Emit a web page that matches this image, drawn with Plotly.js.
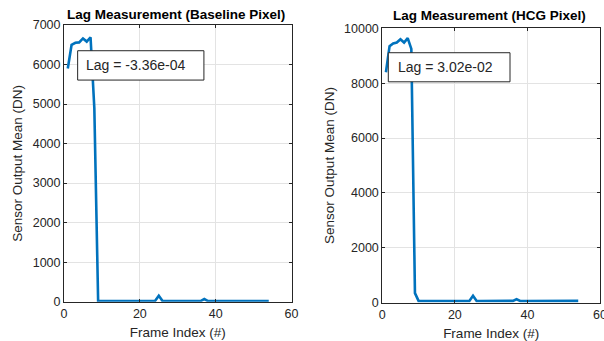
<!DOCTYPE html>
<html>
<head>
<meta charset="utf-8">
<script src="https://cdn.plot.ly/plotly-3.0.1.min.js"></script>
<style>html,body{margin:0;padding:0;background:#fff;}#chart{width:604px;height:341px;}</style>
</head>
<body>
<div id="chart"></div>
<script>
// Frame indices 1..54
const frames = Array.from({length: 54}, (_, i) => i + 1);

// Baseline pixel sensor output mean (DN)
const baselineValues = [
  5900, 6500, 6550, 6560, 6660, 6580, 6690, 4900, 15, 14,
  16, 14, 15, 13, 16, 15, 14, 16, 15, 14,
  15, 16, 14, 18, 150, 16, 14, 15, 16, 14,
  15, 14, 16, 15, 14, 16, 68, 15, 14, 16,
  15, 14, 15, 16, 14, 15, 16, 14, 15, 16,
  14, 15, 16, 15
];

// HCG pixel sensor output mean (DN)
const hcgValues = [
  8400, 9350, 9450, 9480, 9600, 9480, 9640, 9250, 350, 65,
  62, 64, 63, 65, 62, 64, 63, 65, 64, 62,
  63, 65, 64, 66, 255, 64, 63, 65, 62, 64,
  63, 65, 64, 62, 63, 66, 125, 64, 63, 65,
  62, 64, 63, 65, 64, 62, 63, 65, 64, 62,
  63, 65, 64, 65
];

const titles = ["Lag Measurement (Baseline Pixel)", "Lag Measurement (HCG Pixel)"];
const lagLabels = ["Lag = -3.36e-04", "Lag = 3.02e-02"];
const xLabel = "Frame Index (#)";
const yLabel = "Sensor Output Mean (DN)";
const xTicks = [0, 20, 40, 60];
const yTicksBaseline = [0, 1000, 2000, 3000, 4000, 5000, 6000, 7000];
const yTicksHcg = [0, 2000, 4000, 6000, 8000, 10000];

const FONT = "Liberation Sans, Arial, Helvetica, sans-serif";
const DARK = "#262626";
const GRID = "#e3e3e3";
const BLUE = "#0072BD";

function axisBase(extra) {
  return Object.assign({
    showline: true, linecolor: DARK, linewidth: 1, mirror: "ticks",
    ticks: "inside", ticklen: 3, tickcolor: DARK,
    showgrid: true, gridcolor: GRID, gridwidth: 1,
    zeroline: false,
    tickformat: "d",
    ticklabeloverflow: "allow",
    tickfont: {family: FONT, size: 12.5, color: DARK},
    fixedrange: true
  }, extra);
}

const traces = [
  {x: frames, y: baselineValues, type: "scatter", mode: "lines",
   line: {color: BLUE, width: 2.6}, xaxis: "x", yaxis: "y", showlegend: false},
  {x: frames, y: hcgValues, type: "scatter", mode: "lines",
   line: {color: BLUE, width: 2.6}, xaxis: "x2", yaxis: "y2", showlegend: false}
];

const layout = {
  width: 604, height: 341,
  margin: {l: 0, r: 0, t: 0, b: 0},
  paper_bgcolor: "#fff", plot_bgcolor: "#fff",
  font: {family: FONT, color: DARK},
  showlegend: false,
  xaxis: axisBase({domain: [64/604, 291.5/604], range: [0, 60], tickvals: xTicks,
    anchor: "y",
    title: {text: xLabel, font: {family: FONT, size: 13.5, color: DARK}, standoff: 7}}),
  yaxis: axisBase({domain: [(341-301.7)/341, (341-25)/341], range: [0, 7000], tickvals: yTicksBaseline,
    anchor: "x",
    title: {text: yLabel, font: {family: FONT, size: 13.5, color: DARK}, standoff: 6}}),
  xaxis2: axisBase({domain: [382.3/604, 600/604], range: [0, 60], tickvals: xTicks,
    anchor: "y2",
    title: {text: xLabel, font: {family: FONT, size: 13.5, color: DARK}, standoff: 7}}),
  yaxis2: axisBase({domain: [(341-302.7)/341, (341-28.3)/341], range: [0, 10000], tickvals: yTicksHcg,
    anchor: "x2",
    title: {text: yLabel, font: {family: FONT, size: 13.5, color: DARK}, standoff: 6}}),
  shapes: [
    {type: "rect", xref: "x domain", yref: "y domain", x0: 0.060, x1: 0.615, y0: 0.801, y1: 0.907,
     line: {color: DARK, width: 1}, fillcolor: "#fff", layer: "above"},
    {type: "rect", xref: "x2 domain", yref: "y2 domain", x0: 0.0276, x1: 0.5866, y0: 0.805, y1: 0.911,
     line: {color: DARK, width: 1}, fillcolor: "#fff", layer: "above"}
  ],
  annotations: [
    {text: "<b>" + titles[0] + "</b>", xref: "paper", yref: "paper", x: 176/604, y: (341-14.5)/341,
     xanchor: "center", yanchor: "middle", showarrow: false, font: {family: FONT, size: 13.5, color: "#000"}},
    {text: "<b>" + titles[1] + "</b>", xref: "paper", yref: "paper", x: 489/604, y: (341-16)/341,
     xanchor: "center", yanchor: "middle", showarrow: false, font: {family: FONT, size: 13.5, color: "#000"}},
    {text: lagLabels[0], xref: "x domain", yref: "y domain", x: 0.088, y: 0.854,
     xanchor: "left", yanchor: "middle", showarrow: false, font: {family: FONT, size: 14, color: DARK}},
    {text: lagLabels[1], xref: "x2 domain", yref: "y2 domain", x: 0.063, y: 0.858,
     xanchor: "left", yanchor: "middle", showarrow: false, font: {family: FONT, size: 14, color: DARK}}
  ]
};

Plotly.newPlot("chart", traces, layout, {staticPlot: true, displayModeBar: false});
</script>
</body>
</html>
